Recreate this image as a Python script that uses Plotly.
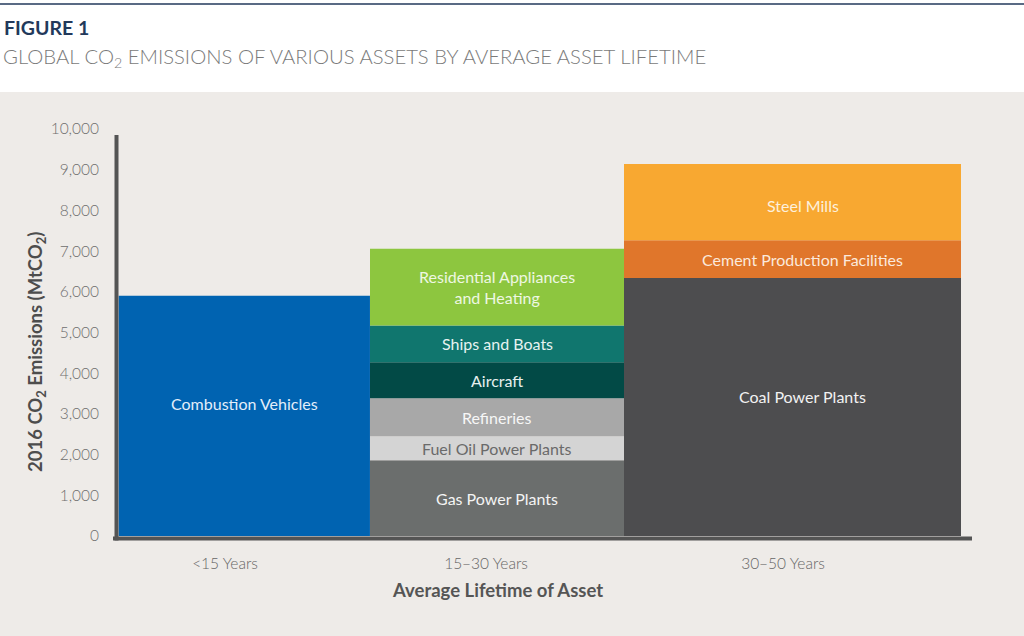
import plotly.graph_objects as go

# data (MtCO2, 2016)
lifetimes = ["<15 Years", "15–30 Years", "30–50 Years"]

assets = [
    "Combustion Vehicles",
    "Gas Power Plants",
    "Fuel Oil Power Plants",
    "Refineries",
    "Aircraft",
    "Ships and Boats",
    "Residential Appliances<br>and Heating",
    "Coal Power Plants",
    "Cement Production Facilities",
    "Steel Mills",
]
asset_group = [0, 1, 1, 1, 1, 1, 1, 2, 2, 2]
emissions = [5900, 1860, 590, 935, 885, 900, 1885, 6340, 925, 1875]

y_ticks = [0, 1000, 2000, 3000, 4000, 5000, 6000, 7000, 8000, 9000, 10000]

# styling
fill_colors = [
    "#0063b1", "#6b6e6d", "#d4d4d4", "#a8a8a8", "#024a46",
    "#10766e", "#8dc63f", "#4d4d4f", "#e0762b", "#f8a831",
]
text_colors = [
    "#e3eefa", "#f4f4f4", "#6a6a6a", "#f7f7f7", "#e6efee",
    "#e6f3f1", "#eef7e2", "#f2f2f2", "#fbe9dc", "#fdf0dc",
]
# small vertical nudges of the block labels (px)
label_yshift = [12, 0, 0, 0, 0, 0, 0, 10, 0, -3]

# horizontal layout in "pixel" units along the x axis (axis spans 0..856)
group_center = [128.3, 381.0, 676.5]
group_width = [251.3, 254.0, 337.0]
label_shift = [0, 0, 10]
tick_pos = [109, 370, 667]

W, H = 1024, 636
M_L, M_R, M_T, M_B = 116, 52, 129, 100
plot_h = H - M_T - M_B


def py(p):
    # pixel row -> paper y
    return (H - M_B - p) / plot_h


def px(p):
    # pixel column -> paper x
    return (p - M_L) / (W - M_L - M_R)


fig = go.Figure()
notes = []
base = [0, 0, 0]
for i, name in enumerate(assets):
    g = asset_group[i]
    fig.add_trace(
        go.Bar(
            x=[group_center[g]],
            y=[emissions[i]],
            base=[base[g]],
            width=[group_width[g]],
            marker=dict(color=fill_colors[i], line=dict(width=0)),
            name=name,
            showlegend=False,
            hoverinfo="skip",
        )
    )
    # label in the middle of each block
    notes.append(
        dict(
            x=group_center[g] + label_shift[g],
            y=base[g] + emissions[i] / 2,
            yshift=label_yshift[i],
            text=name,
            showarrow=False,
            font=dict(family="Lato", size=16, color=text_colors[i]),
            align="center",
        )
    )
    base[g] += emissions[i]

notes += [
    dict(xref="paper", yref="paper", x=px(2), y=py(27), xanchor="left",
         yanchor="middle", showarrow=False, text="<b>FIGURE 1</b>",
         font=dict(family="Lato", size=19.5, color="#22395b")),
    dict(xref="paper", yref="paper", x=px(1), y=py(57), xanchor="left",
         yanchor="middle", showarrow=False,
         text="GLOBAL CO<sub>2</sub> EMISSIONS OF VARIOUS ASSETS BY AVERAGE ASSET LIFETIME",
         font=dict(family="Lato", size=20.3, color="#7a7a7a", weight=300)),
    dict(xref="paper", yref="paper", x=px(36), y=py(352), xanchor="center",
         yanchor="middle", showarrow=False, textangle=-90,
         text="<b>2016 CO<sub>2</sub> Emissions (MtCO<sub>2</sub>)</b>",
         font=dict(family="Lato", size=18.5, color="#4d4d4d")),
    dict(xref="paper", yref="paper", x=px(497), y=py(590), xanchor="center",
         yanchor="middle", showarrow=False,
         text="<b>Average Lifetime of Asset</b>",
         font=dict(family="Lato", size=18.5, color="#555555")),
]

fig.update_layout(
    width=W,
    height=H,
    margin=dict(l=M_L, r=M_R, t=M_T, b=M_B),
    paper_bgcolor="#eeebe8",
    plot_bgcolor="#eeebe8",
    barmode="overlay",
    font=dict(family="Lato", color="#6f6f6f"),
    xaxis=dict(
        range=[0, 856],
        tickvals=tick_pos,
        ticktext=lifetimes,
        showgrid=False,
        zeroline=False,
        showline=False,
        ticks="",
        ticklabelstandoff=16,
        tickfont=dict(family="Lato", size=15.5, color="#666666", weight=300),
    ),
    yaxis=dict(
        range=[0, 10000],
        tickvals=y_ticks,
        tickformat=",",
        showgrid=False,
        zeroline=False,
        showline=False,
        ticks="",
        ticklabelstandoff=16,
        tickfont=dict(family="Lato", size=15.5, color="#6e6e6e", weight=300),
    ),
    shapes=[
        # white header band
        dict(type="rect", xref="paper", yref="paper", x0=px(0), x1=px(W),
             y0=py(92), y1=py(0), fillcolor="white", line=dict(width=0),
             layer="below"),
        # navy rule at the very top
        dict(type="line", xref="paper", yref="paper", x0=px(0), x1=px(W),
             y0=py(4), y1=py(4), line=dict(color="#22395b", width=1.5)),
        # axis lines
        dict(type="line", xref="paper", yref="paper", x0=px(113), x1=px(972),
             y0=py(538.5), y1=py(538.5), line=dict(color="#545454", width=4)),
        dict(type="line", xref="paper", yref="paper", x0=px(116.5), x1=px(116.5),
             y0=py(540.5), y1=py(135), line=dict(color="#545454", width=4)),
    ],
    annotations=notes,
)

fig.write_html(
    "out.html",
    config={"displayModeBar": False},
    post_script="document.body.style.margin='0';",
)
